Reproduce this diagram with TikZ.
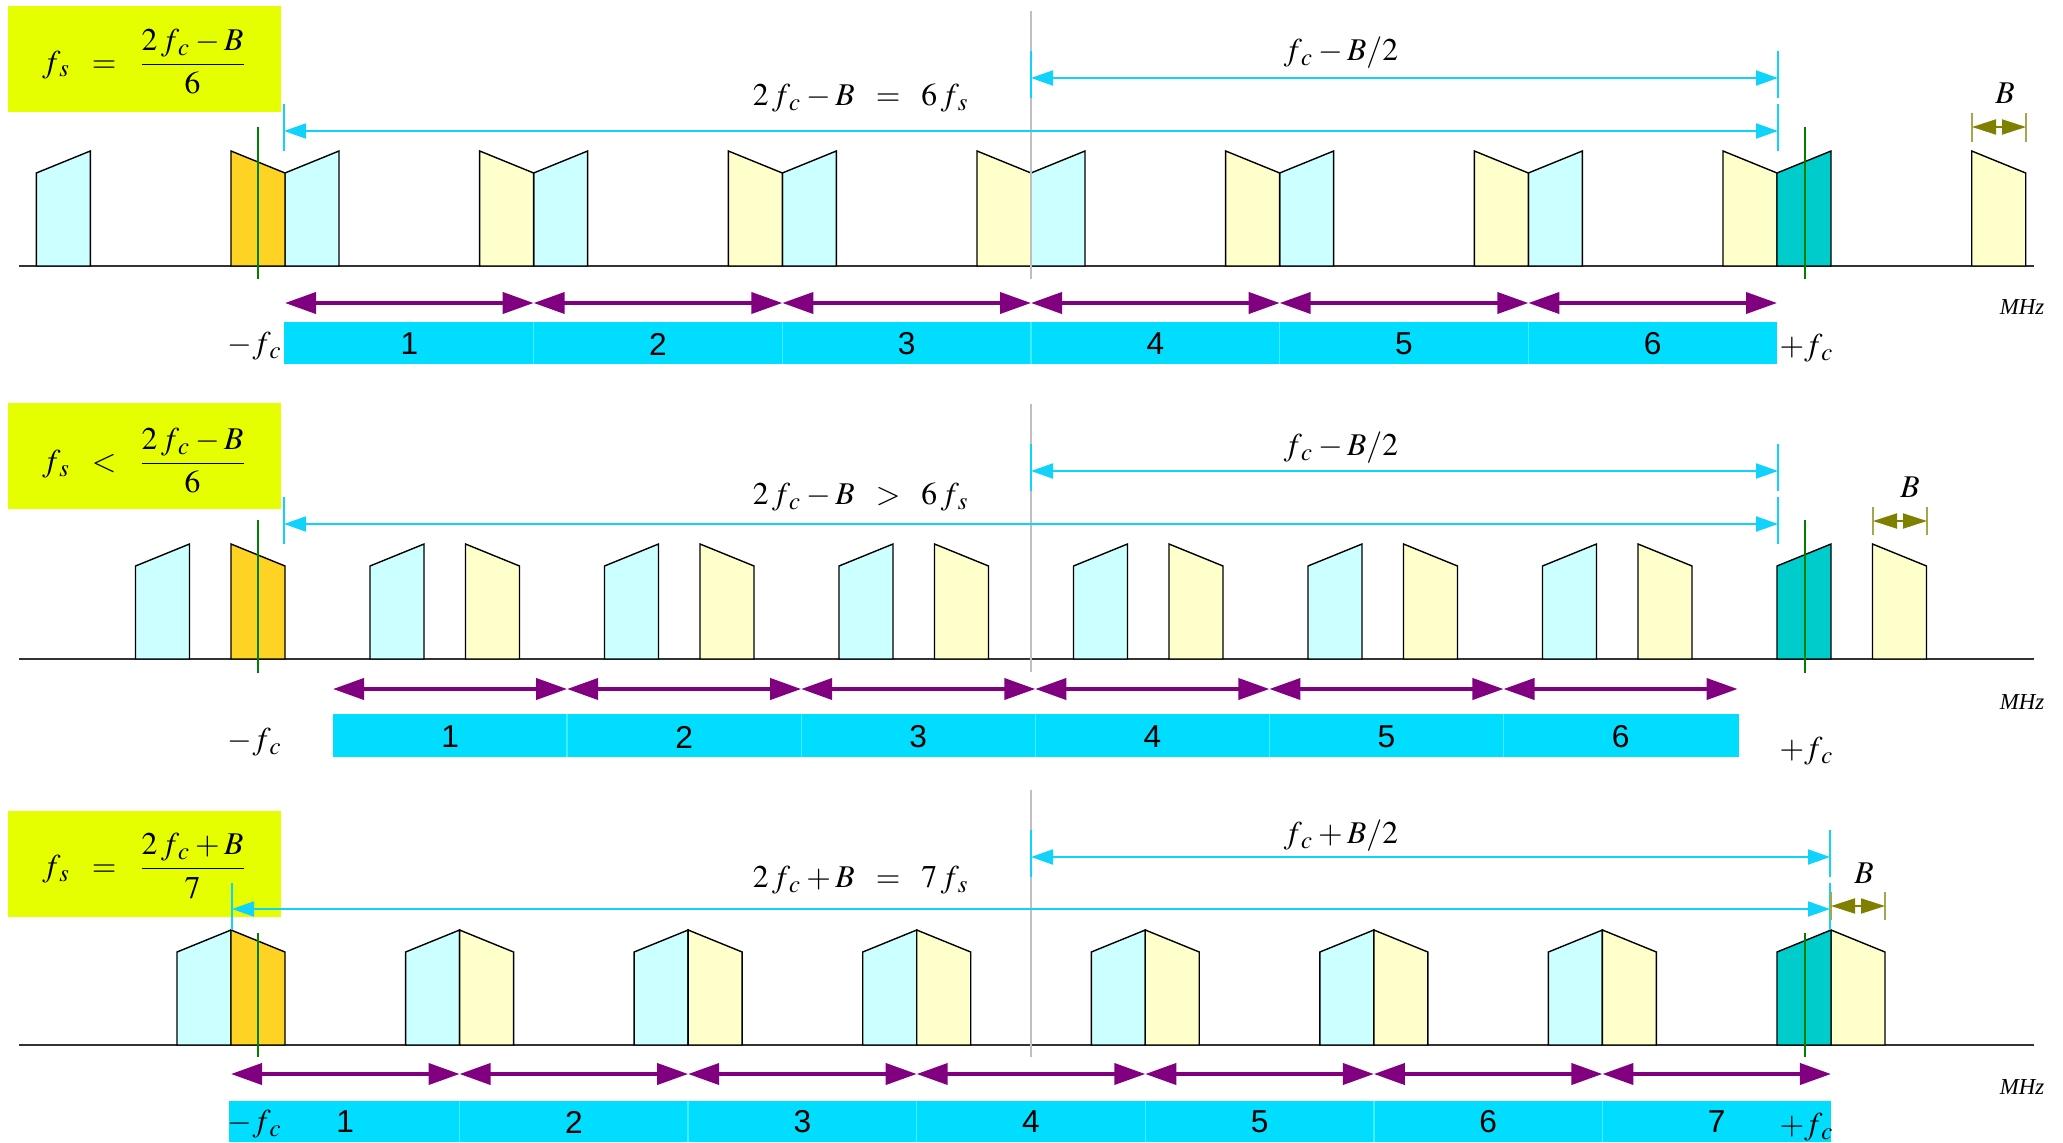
\documentclass[tikz,border=0pt]{standalone}
\usepackage{mathptmx}
\usepackage{fontspec}
\setmainfont{Liberation Serif}
\setsansfont{Liberation Sans}
\usepackage{tikz}
\usetikzlibrary{arrows.meta}

\definecolor{boxyellow}{HTML}{E6FF00}
\definecolor{paleblue}{HTML}{CCFFFF}
\definecolor{paleyellow}{HTML}{FFFFCC}
\definecolor{bandorange}{HTML}{FFD324}
\definecolor{bandteal}{HTML}{00CCCC}
\definecolor{barcyan}{HTML}{00DDFF}
\definecolor{barline}{HTML}{40EEFF}
\definecolor{spancyan}{HTML}{10D2FA}
\definecolor{fspurple}{HTML}{800080}
\definecolor{bwolive}{HTML}{808000}

\tikzset{
  band/.style={draw=black, line width=0.4pt},
  axis/.style={draw=black!80, line width=0.55pt},
  centre/.style={draw=black!25, line width=0.4pt},
  carrier/.style={draw=green!50!black, line width=0.4pt},
  spantick/.style={draw=spancyan, line width=0.5pt},
  spanarrow/.style={draw=spancyan, line width=0.55pt,
    {Triangle[length=0.22cm,width=0.15cm]}-{Triangle[length=0.22cm,width=0.15cm]}},
  fsarrow/.style={draw=fspurple, line width=1.1pt,
    {Triangle[length=0.31cm,width=0.21cm]}-{Triangle[length=0.31cm,width=0.21cm]}},
  bwtick/.style={draw=bwolive!70, line width=0.4pt},
  bwarrow/.style={draw=bwolive, line width=0.55pt,
    {Triangle[length=0.24cm,width=0.15cm]}-{Triangle[length=0.24cm,width=0.15cm]}},
  barsep/.style={draw=barline, line width=0.4pt},
  formula/.style={inner sep=0pt, font=\fontsize{9}{11}\selectfont},
  num/.style={inner sep=0pt, font=\sffamily\fontsize{9}{11}\selectfont},
  unit/.style={inner sep=0pt, font=\itshape\fontsize{6.5}{8}\selectfont}
}

% left x, base y, colour
\newcommand{\bandup}[3]{\filldraw[band,fill=#3] ({#1},#2) -- ++(0,-93) -- ++(54,-22) -- ++(0,115) -- cycle;}
\newcommand{\banddown}[3]{\filldraw[band,fill=#3] ({#1},#2) -- ++(0,-115) -- ++(54,22) -- ++(0,93) -- cycle;}
\newcommand{\fsub}[1]{f_{\,#1}}

\begin{document}
\begin{tikzpicture}[x=0.01cm,y=-0.01cm]
  \useasboundingbox (0,0) rectangle (2063,1142);

  % ---- fs = (2fc-B)/6
  \fill[boxyellow] (8,6) rectangle (281,112);
  \node[formula] (condA) at (145,62) {$\fsub{s} \;\;=\;\; \displaystyle\frac{2\,\fsub{c} - B}{6}$};
  \draw[axis] (19,266) -- (2034,266);
  \foreach \k in {1,...,7} \bandup{1777-\k*248.67}{266}{paleblue};
  \foreach \k in {1,...,7} \banddown{231+\k*248.67}{266}{paleyellow};
  \banddown{231}{266}{bandorange};
  \bandup{1777}{266}{bandteal};
  \draw[centre] (1031,11) -- (1031,279);
  \draw[carrier] (258,127) -- (258,279);
  \draw[carrier] (1805,127) -- (1805,279);
  \draw[spantick] (1031,51) -- (1031,98);
  \draw[spantick] (1778,51) -- (1778,98);
  \draw[spantick] (284,104) -- (284,151);
  \draw[spantick] (1778,104) -- (1778,151);
  \coordinate (midA) at (1031,78);
  \coordinate (topA) at (1778,78);
  \coordinate (lowA) at (284,131);
  \coordinate (uppA) at (1778,131);
  \draw[spanarrow] (midA) -- (topA);
  \draw[spanarrow] (lowA) -- (uppA);
  \node[formula] (halfA) at (1341,53) {$\fsub{c} - B/2$};
  \node[formula] (sumA) at (861,98) {$2\,\fsub{c} - B \;\;=\;\; 6\,\fsub{s}$};
  \draw[bwtick] (1972,113) -- (1972,142);
  \draw[bwtick] (2026,113) -- (2026,142);
  \draw[bwarrow] (1972,127) -- (2026,127);
  \node[formula] (bwA) at (2005,93) {$B$};
  \foreach \k in {0,...,5}
    \draw[fsarrow] ({285+\k*248.67},303) -- ({285+(\k+1)*248.67},303);
  \fill[barcyan] (284,322) rectangle (1777,364);
  \foreach \k in {1,...,5} \draw[barsep] ({285+\k*248.67},322) -- ({285+\k*248.67},364);
  \foreach \k in {1,...,6} \node[num] (zoneA\k) at ({285+(\k-0.5)*248.67},344) {\k};
  \node[formula,anchor=east] (mfcA) at (283,346) {$-\fsub{c}$};
  \node[formula,anchor=west] (pfcA) at (1779,348) {$+\fsub{c}$};
  \node[unit] (mhzA) at (2022,307) {MHz};

  % ---- fs < (2fc-B)/6
  \fill[boxyellow] (8,403) rectangle (281,509);
  \node[formula] (condB) at (145,461) {$\fsub{s} \;\;<\;\; \displaystyle\frac{2\,\fsub{c} - B}{6}$};
  \draw[axis] (19,659) -- (2034,659);
  \foreach \k in {1,...,7} \bandup{1777-\k*234.5}{659}{paleblue};
  \foreach \k in {1,...,7} \banddown{231+\k*234.5}{659}{paleyellow};
  \banddown{231}{659}{bandorange};
  \bandup{1777}{659}{bandteal};
  \draw[centre] (1031,404) -- (1031,672);
  \draw[carrier] (258,520) -- (258,673);
  \draw[carrier] (1805,520) -- (1805,673);
  \draw[spantick] (1031,444) -- (1031,491);
  \draw[spantick] (1778,444) -- (1778,491);
  \draw[spantick] (284,497) -- (284,544);
  \draw[spantick] (1778,497) -- (1778,544);
  \coordinate (midB) at (1031,471);
  \coordinate (topB) at (1778,471);
  \coordinate (lowB) at (284,524);
  \coordinate (uppB) at (1778,524);
  \draw[spanarrow] (midB) -- (topB);
  \draw[spanarrow] (lowB) -- (uppB);
  \node[formula] (halfB) at (1341,448) {$\fsub{c} - B/2$};
  \node[formula] (sumB) at (861,497) {$2\,\fsub{c} - B \;\;>\;\; 6\,\fsub{s}$};
  \draw[bwtick] (1873,507) -- (1873,535);
  \draw[bwtick] (1927,507) -- (1927,535);
  \draw[bwarrow] (1873,521) -- (1927,521);
  \node[formula] (bwB) at (1910,487) {$B$};
  \foreach \k in {0,...,5}
    \draw[fsarrow] ({333+\k*234.1},689) -- ({333+(\k+1)*234.1},689);
  \fill[barcyan] (333,714) rectangle (1739,757);
  \foreach \k in {1,...,5} \draw[barsep] ({333+\k*234.1},714) -- ({333+\k*234.1},757);
  \foreach \k in {1,...,6} \node[num] (zoneB\k) at ({333+(\k-0.5)*234.1},737) {\k};
  \node[formula,anchor=east] (mfcB) at (283,742) {$-\fsub{c}$};
  \node[formula,anchor=west] (pfcB) at (1779,751) {$+\fsub{c}$};
  \node[unit] (mhzB) at (2022,702) {MHz};

  % ---- fs = (2fc+B)/7
  \fill[boxyellow] (8,811) rectangle (281,917);
  \node[formula] (condC) at (145,866) {$\fsub{s} \;\;=\;\; \displaystyle\frac{2\,\fsub{c} + B}{7}$};
  \draw[axis] (19,1045) -- (2034,1045);
  \foreach \k in {1,...,7} \bandup{1777-\k*228.57}{1045}{paleblue};
  \foreach \k in {1,...,7} \banddown{231+\k*228.57}{1045}{paleyellow};
  \banddown{231}{1045}{bandorange};
  \bandup{1777}{1045}{bandteal};
  \draw[centre] (1031,790) -- (1031,1057);
  \draw[carrier] (258,933) -- (258,1057);
  \draw[carrier] (1805,933) -- (1805,1057);
  \draw[spantick] (1031,830) -- (1031,877);
  \draw[spantick] (1830,830) -- (1830,877);
  \draw[spantick] (232,883) -- (232,930);
  \draw[spantick] (1830,883) -- (1830,930);
  \coordinate (midC) at (1031,857);
  \coordinate (topC) at (1830,857);
  \coordinate (lowC) at (232,909);
  \coordinate (uppC) at (1830,909);
  \draw[spanarrow] (midC) -- (topC);
  \draw[spanarrow] (lowC) -- (uppC);
  \node[formula] (halfC) at (1341,836) {$\fsub{c} + B/2$};
  \node[formula] (sumC) at (861,880) {$2\,\fsub{c} + B \;\;=\;\; 7\,\fsub{s}$};
  \draw[bwtick] (1831,892) -- (1831,920);
  \draw[bwtick] (1885,892) -- (1885,920);
  \draw[bwarrow] (1831,906) -- (1885,906);
  \node[formula] (bwC) at (1864,873) {$B$};
  \foreach \k in {0,...,6}
    \draw[fsarrow] ({231+\k*228.57},1074) -- ({231+(\k+1)*228.57},1074);
  \fill[barcyan] (229,1101) rectangle (1831,1142);
  \foreach \k in {1,...,6} \draw[barsep] ({231+\k*228.57},1101) -- ({231+\k*228.57},1142);
  \foreach \k in {1,...,7} \node[num] (zoneC\k) at ({231+(\k-0.5)*228.57},1122) {\k};
  \node[formula,anchor=east] (mfcC) at (283,1124) {$-\fsub{c}$};
  \node[formula,anchor=west] (pfcC) at (1779,1127) {$+\fsub{c}$};
  \node[unit] (mhzC) at (2022,1087) {MHz};
\end{tikzpicture}
\end{document}
